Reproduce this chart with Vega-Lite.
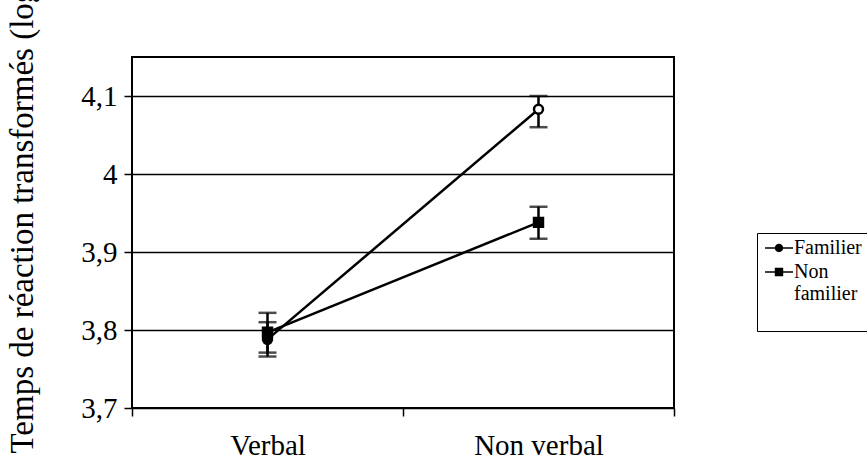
{
  "$schema": "https://vega.github.io/schema/vega-lite/v6.json",
  "autosize": {"type": "none"},
  "width": 542,
  "height": 351,
  "padding": {"left": 132, "top": 57, "right": 193, "bottom": 67},
  "background": "white",
  "config": {
    "font": "Liberation Serif",
    "view": {"stroke": "black", "strokeWidth": 2},
    "axis": {"domain": false, "tickColor": "black", "tickWidth": 1.5, "tickSize": 8, "labelColor": "black", "titleColor": "black", "labelFont": "Liberation Serif", "titleFont": "Liberation Serif", "titleFontWeight": "normal"}
  },
  "data": {
    "values": [
      {"cond": "Verbal", "groupe": "Familier", "moy": 3.788, "bas": 3.766, "haut": 3.81},
      {"cond": "Non verbal", "groupe": "Familier", "moy": 4.083, "bas": 4.06, "haut": 4.1},
      {"cond": "Verbal", "groupe": "Non familier", "moy": 3.797, "bas": 3.771, "haut": 3.822},
      {"cond": "Non verbal", "groupe": "Non familier", "moy": 3.938, "bas": 3.917, "haut": 3.958}
    ]
  },
  "encoding": {
    "x": {
      "field": "cond", "type": "nominal", "sort": ["Verbal", "Non verbal"],
      "scale": {"paddingInner": 0, "paddingOuter": 0},
      "axis": {"title": null, "labelAngle": 0, "labelFontSize": 29, "labelPadding": 15, "labelBaseline": "top", "tickBand": "extent", "grid": false}
    },
    "y": {
      "type": "quantitative",
      "scale": {"domain": [3.7, 4.15], "nice": false, "zero": false},
      "axis": {
        "values": [3.7, 3.8, 3.9, 4, 4.1],
        "labelExpr": "replace(toString(datum.value), '.', ',')",
        "labelFontSize": 29, "labelPadding": 7,
        "grid": true, "gridColor": "black", "gridWidth": 1.5, "gridOpacity": 1,
        "title": "Temps de réaction transformés (log)",
        "titleFontSize": 33, "titleAngle": -90, "titleAlign": "left", "titleBaseline": "middle",
        "titleX": -110, "titleY": 396
      }
    }
  },
  "layer": [
    {
      "mark": {"type": "line", "color": "black", "strokeWidth": 2.5},
      "encoding": {"y": {"field": "moy"}, "detail": {"field": "groupe", "type": "nominal"}}
    },
    {
      "mark": {"type": "rule", "color": "black", "strokeWidth": 2.5},
      "encoding": {"y": {"field": "bas"}, "y2": {"field": "haut"}}
    },
    {
      "mark": {"type": "tick", "color": "black", "size": 18, "thickness": 2.5},
      "encoding": {"y": {"field": "bas"}}
    },
    {
      "mark": {"type": "tick", "color": "black", "size": 18, "thickness": 2.5},
      "encoding": {"y": {"field": "haut"}}
    },
    {
      "mark": {"type": "point", "filled": true, "color": "black", "opacity": 0},
      "encoding": {
        "y": {"field": "moy"},
        "shape": {
          "field": "groupe", "type": "nominal",
          "scale": {
            "domain": ["Familier", "Non familier"],
            "range": [
              "M-2,-0.12H2V0.12H-2ZM-0.6,0A0.6,0.6 0 1,1 0.6,0A0.6,0.6 0 1,1 -0.6,0Z",
              "M-2,-0.12H2V0.12H-2ZM-0.6,-0.6H0.6V0.6H-0.6Z"
            ]
          },
          "legend": {
            "title": null, "orient": "none", "legendX": 625, "legendY": 176,
            "strokeColor": "black", "fillColor": "white", "padding": 5,
            "labelFontSize": 20, "labelColor": "black", "labelFont": "Liberation Serif",
            "labelExpr": "datum.label === 'Non familier' ? ['Non', 'familier', ''] : datum.label",
            "labelBaseline": "middle", "labelOffset": 5, "rowPadding": 4, "symbolOffset": 7,
            "symbolSize": 196, "symbolFillColor": "black", "symbolStrokeColor": "black", "symbolStrokeWidth": 0, "symbolOpacity": 1
          }
        },
        "size": {"value": 196}
      }
    },
    {
      "mark": {"type": "point", "opacity": 1, "stroke": "black", "strokeWidth": 2.5},
      "encoding": {
        "y": {"field": "moy"},
        "shape": {
          "field": "groupe", "type": "nominal",
          "scale": {"domain": ["Familier", "Non familier"], "range": ["circle", "square"]},
          "legend": null
        },
        "size": {"value": 80},
        "fill": {
          "condition": {"test": "datum.groupe === 'Familier' && datum.cond === 'Non verbal'", "value": "white"},
          "value": "black"
        }
      }
    }
  ],
  "resolve": {"scale": {"shape": "independent"}, "legend": {"shape": "independent"}}
}
